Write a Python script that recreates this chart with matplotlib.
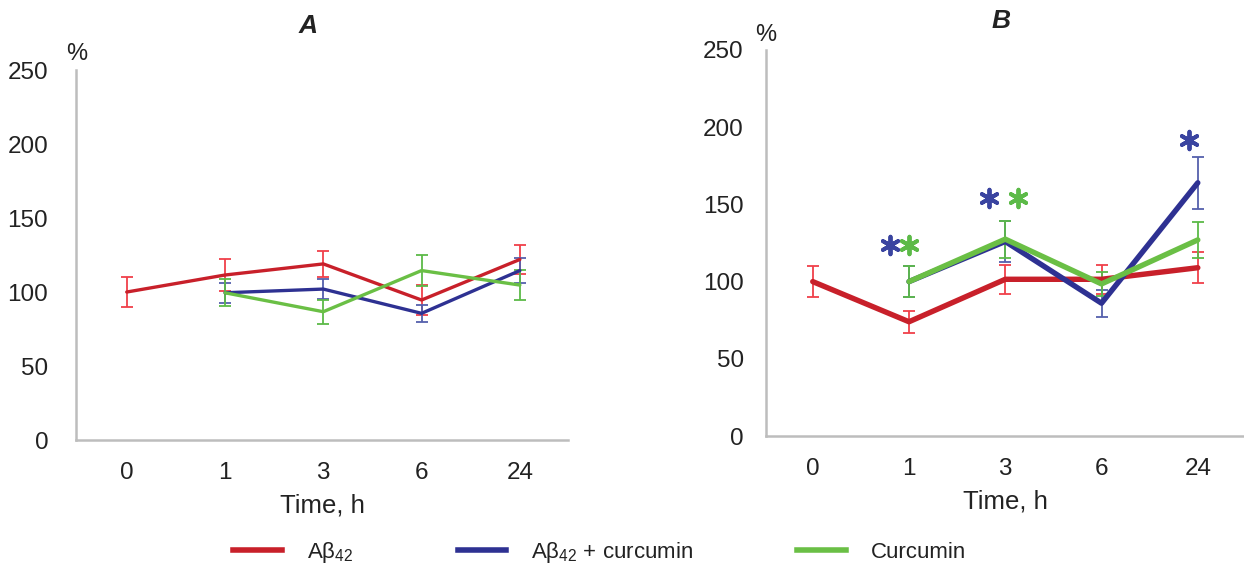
import numpy as np
import matplotlib
matplotlib.use("Agg")
import matplotlib.pyplot as plt
from matplotlib.lines import Line2D
from matplotlib import font_manager

plt.rcParams['font.family'] = ['Liberation Sans', 'DejaVu Sans']
plt.rcParams['mathtext.fontset'] = 'custom'
plt.rcParams['mathtext.rm'] = 'Liberation Sans'

# narrow face for the legend if present
names = set(f.name for f in font_manager.fontManager.ttflist)
legend_family = 'Liberation Sans Narrow' if 'Liberation Sans Narrow' in names else 'Liberation Sans'

# time points (categorical)
times = ['0', '1', '3', '6', '24']

# panel A
a_abeta = [100, 111.5, 119, 94.6, 122]
a_abeta_err = [10, 10.5, 9, 10, 10]
a_combo = [np.nan, 99.5, 102, 85.6, 114.5]
a_combo_err = [np.nan, 6.7, 7, 5.6, 8.5]
a_curc = [np.nan, 99.5, 86.7, 114.5, 104.7]
a_curc_err = [np.nan, 9, 8, 10.5, 10]

# panel B
b_abeta = [100, 74, 101.5, 101.5, 109]
b_abeta_err = [10, 7, 9.5, 9.5, 10]
b_combo = [np.nan, 100, 126, 86, 164]
b_combo_err = [np.nan, 10, 13.5, 8.6, 17]
b_curc = [np.nan, 100, 127.5, 98.5, 127]
b_curc_err = [np.nan, 10, 12, 7.5, 11.5]

# significance marks in panel B
star_x = [0.80, 1.0, 1.83, 2.13, 3.91]
star_y = [124, 124, 154, 154, 192]
star_series = ['combo', 'curc', 'combo', 'curc', 'combo']

line_col = {'abeta': '#c8202a', 'combo': '#2e3192', 'curc': '#6abf45'}
err_col = {'abeta': '#f0404a', 'combo': '#5560ad', 'curc': '#5cba48'}
star_col = {'combo': '#3a44a0', 'curc': '#5cba48'}
txt = '#222222'

fig = plt.figure(figsize=(12.44, 5.74), dpi=100)
axA = fig.add_axes([0.0611, 0.2334, 0.3955, 0.6446])
axB = fig.add_axes([0.6158, 0.2404, 0.3842, 0.6725])


def draw_panel(ax, series, lw, xlim, ypad):
    x = np.arange(len(times))
    for key, vals, errs in series:
        ax.errorbar(x, vals, yerr=errs, fmt='none', ecolor=err_col[key],
                    elinewidth=1.3, capsize=4.5, capthick=1.3, zorder=2)
    for key, vals, errs in series:
        ax.plot(x, vals, color=line_col[key], lw=lw, zorder=3,
                solid_capstyle='round', solid_joinstyle='round')
    ax.set_xlim(*xlim)
    ax.set_ylim(0, 250)
    ax.set_yticks([0, 50, 100, 150, 200, 250])
    ax.set_xticks(x)
    ax.set_xticklabels(times)
    ax.tick_params(axis='both', length=0, labelsize=17.5, colors=txt)
    ax.tick_params(axis='y', pad=ypad)
    ax.tick_params(axis='x', pad=16)
    for s in ['top', 'right']:
        ax.spines[s].set_visible(False)
    for s in ['left', 'bottom']:
        ax.spines[s].set_color('#bdbdbd')
        ax.spines[s].set_linewidth(1.8)
    ax.set_xlabel('Time, h', fontsize=18.5, color=txt, labelpad=7)


draw_panel(axA, [('abeta', a_abeta, a_abeta_err),
                 ('combo', a_combo, a_combo_err),
                 ('curc', a_curc, a_curc_err)], 2.4, (-0.516, 4.49), 20)
draw_panel(axB, [('abeta', b_abeta, b_abeta_err),
                 ('combo', b_combo, b_combo_err),
                 ('curc', b_curc, b_curc_err)], 3.9, (-0.485, 4.48), 16)

for sx, sy, k in zip(star_x, star_y, star_series):
    axB.scatter(sx, sy, marker=(6, 2, 0), s=160, color=star_col[k],
                linewidths=2.8, zorder=4, clip_on=False)

fig.text(308 / 1244, 1 - 26 / 574, 'A', fontsize=19, fontweight='bold', fontstyle='italic',
         ha='center', va='center', color=txt)
fig.text(1001 / 1244, 1 - 21 / 574, 'B', fontsize=19, fontweight='bold', fontstyle='italic',
         ha='center', va='center', color=txt)
fig.text(77 / 1244, 1 - 54 / 574, '%', fontsize=17, ha='center', va='center', color=txt)
fig.text(766 / 1244, 1 - 35 / 574, '%', fontsize=17, ha='center', va='center', color=txt)

handles = [Line2D([], [], color=line_col['abeta'], lw=4),
           Line2D([], [], color=line_col['combo'], lw=4),
           Line2D([], [], color=line_col['curc'], lw=4)]
labels = ['Aβ$_{\\mathregular{42}}$', 'Aβ$_{\\mathregular{42}}$ + curcumin', 'Curcumin']
fig.legend(handles, labels, loc='center', bbox_to_anchor=(0.482, 0.037), ncol=3,
           frameon=False, prop={'family': legend_family, 'size': 16},
           handlelength=2.2, handletextpad=1.1, columnspacing=4.7, labelcolor=txt)

fig.savefig('out.png', dpi=100)
